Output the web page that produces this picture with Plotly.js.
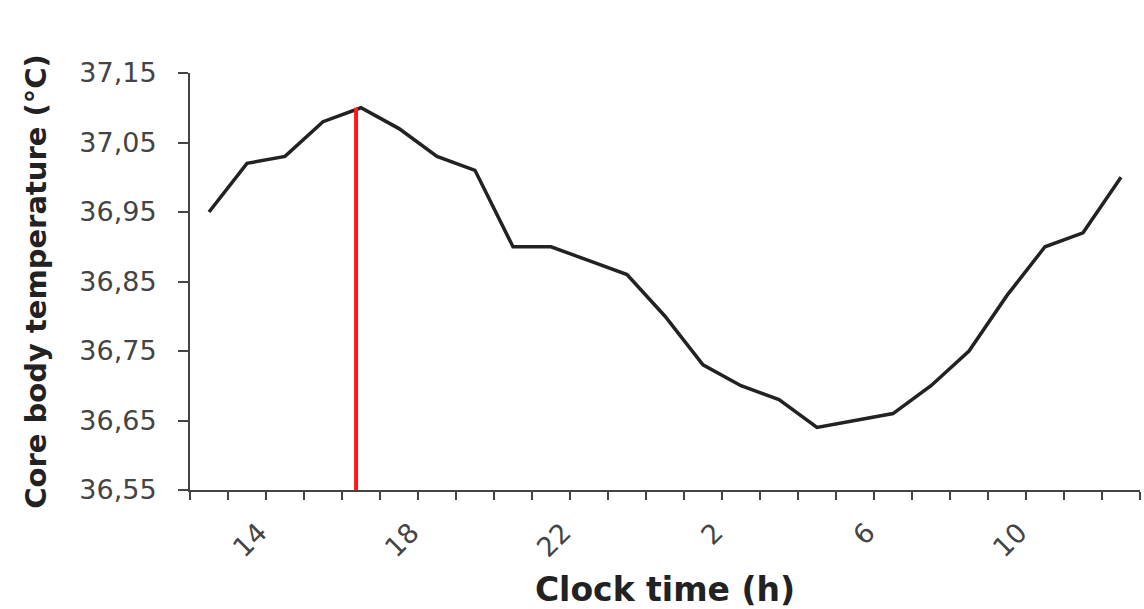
<!DOCTYPE html>
<html>
<head>
<meta charset="utf-8">
<script src="https://cdn.plot.ly/plotly-3.0.1.min.js"></script>
<style>html,body{margin:0;padding:0;background:#fff;}#chart{width:1144px;height:609px;}</style>
</head>
<body>
<div id="chart"></div>
<script>
// Clock hours, one reading per hour from 13 h to 13 h next day
var hours = [13,14,15,16,17,18,19,20,21,22,23,0,1,2,3,4,5,6,7,8,9,10,11,12,13];
var temperature = [36.95,37.02,37.03,37.08,37.10,37.07,37.03,37.01,36.90,36.90,36.88,36.86,36.80,36.73,36.70,36.68,36.64,36.65,36.66,36.70,36.75,36.83,36.90,36.92,37.00];
var tickLabels = ["14","18","22","2","6","10"];
var tickIndex = [1,5,9,13,17,21];
// Peak marker (acrophase) position, in index units along the time axis
var peakX = [3.87, 3.87];
var peakY = [36.55, 37.10];

var idx = hours.map(function(h,i){return i;});

var traces = [
  {x: idx, y: temperature, type: 'scatter', mode: 'lines',
   line: {color: '#222222', width: 3.5}},
  {x: peakX, y: peakY, type: 'scatter', mode: 'lines',
   line: {color: '#ff1a1a', width: 4}}
];

var tickFont = {family: 'DejaVu Sans, Verdana, sans-serif', size: 27, color: '#444'};
var titleFontFamily = 'DejaVu Sans, Verdana, sans-serif';

var layout = {
  width: 1144, height: 609,
  margin: {l: 190, r: 4, t: 73, b: 119},
  paper_bgcolor: '#ffffff', plot_bgcolor: '#ffffff',
  showlegend: false,
  separators: ', ',
  font: {family: 'DejaVu Sans, Verdana, sans-serif', color: '#333'},
  xaxis: {
    range: [-0.5, 24.5],
    tickvals: tickIndex, ticktext: tickLabels,
    tickangle: -45, ticks: '',
    tickfont: tickFont,
    ticklabelshift: 12, ticklabelstandoff: 14,
    showgrid: false, zeroline: false,
    showline: true, linecolor: '#444', linewidth: 2,
    minor: {tick0: -0.5, dtick: 1, ticks: 'outside', ticklen: 8, tickwidth: 2, tickcolor: '#444', showgrid: false},
    title: {text: '<b>Clock time (h)</b>', font: {family: titleFontFamily, size: 33, color: '#222'}, standoff: 20}
  },
  yaxis: {
    range: [36.55, 37.15],
    tick0: 36.55, dtick: 0.1, tickformat: '.2f',
    ticks: 'outside', ticklen: 10, tickwidth: 2, tickcolor: '#444',
    tickfont: tickFont,
    ticklabelstandoff: 16,
    showgrid: false, zeroline: false,
    showline: true, linecolor: '#444', linewidth: 2,
    title: {text: '<b>Core body temperature (°C)</b>', font: {family: titleFontFamily, size: 29, color: '#222'}, standoff: 24}
  }
};

Plotly.newPlot('chart', traces, layout, {displayModeBar: false, staticPlot: true});
</script>
</body>
</html>
